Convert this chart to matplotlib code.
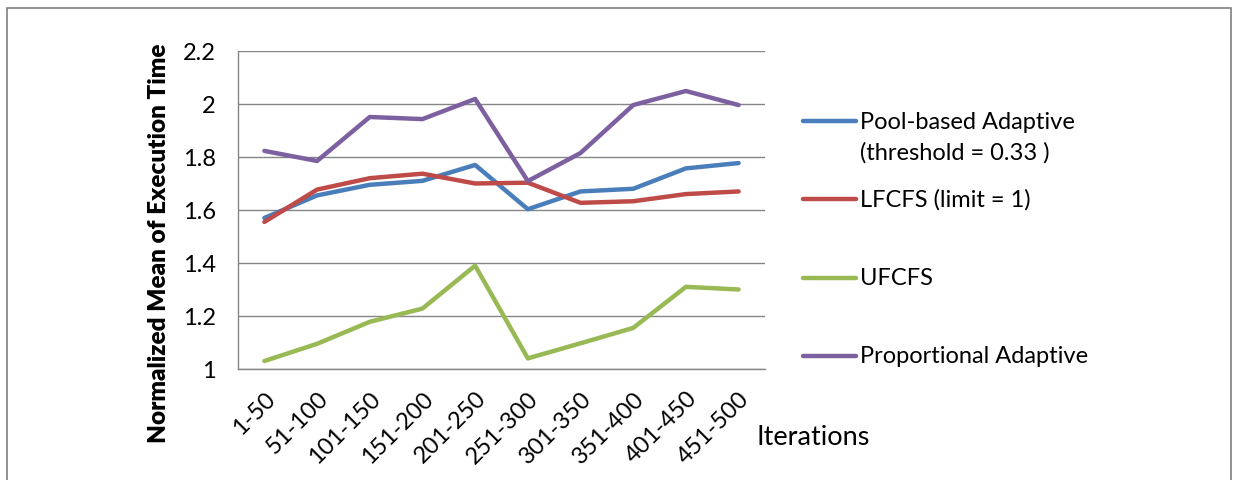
import matplotlib
matplotlib.use("Agg")
import matplotlib.pyplot as plt
from matplotlib.lines import Line2D
from matplotlib.patches import Rectangle

# iteration buckets on the x axis
iterations = ["1-50", "51-100", "101-150", "151-200", "201-250",
              "251-300", "301-350", "351-400", "401-450", "451-500"]

# normalized mean of execution time per scheduler
pool_adaptive = [1.57, 1.655, 1.695, 1.71, 1.77, 1.603, 1.67, 1.68, 1.757, 1.777]
lfcfs = [1.555, 1.677, 1.72, 1.737, 1.70, 1.703, 1.627, 1.633, 1.66, 1.67]
ufcfs = [1.03, 1.095, 1.178, 1.228, 1.39, 1.04, 1.097, 1.155, 1.31, 1.30]
prop_adaptive = [1.823, 1.785, 1.951, 1.943, 2.019, 1.709, 1.815, 1.996, 2.049, 1.996]

labels = ["Pool-based Adaptive\n(threshold = 0.33 )", "LFCFS (limit = 1)",
          "UFCFS", "Proportional Adaptive"]
colors = ["#4A7EBB", "#BE4B48", "#98B954", "#7D60A0"]
yticks = [1, 1.2, 1.4, 1.6, 1.8, 2, 2.2]

plt.rcParams['font.family'] = ['Lato', 'DejaVu Sans']

fig = plt.figure(figsize=(12.34, 4.81), dpi=100)
ax = fig.add_axes([0.1929, 0.2308, 0.427, 0.6611])

x = range(len(iterations))
for series, c in zip([pool_adaptive, lfcfs, ufcfs, prop_adaptive], colors):
    ax.plot(x, series, color=c, lw=3.2, solid_capstyle='round', solid_joinstyle='round')

ax.set_xlim(-0.5, len(iterations) - 0.5)
ax.set_ylim(1, 2.2)
ax.set_yticks(yticks)
ax.set_yticklabels([f"{v:g}" for v in yticks], fontsize=17)
ax.set_xticks(list(x))
ax.set_xticklabels(iterations, rotation=45, ha='right', rotation_mode='anchor', fontsize=17)
ax.tick_params(axis='y', length=0, pad=16)
ax.tick_params(axis='x', length=0, pad=13)
ax.grid(axis='y', color='#868686', lw=1)
ax.set_axisbelow(True)
for s in ['top', 'right']:
    ax.spines[s].set_visible(False)
for s in ['left', 'bottom']:
    ax.spines[s].set_color('#868686')
    ax.spines[s].set_linewidth(1)

ax.set_ylabel("Normalized Mean of Execution Time", fontsize=17.5, fontweight='heavy')
ax.yaxis.set_label_coords(-0.13, 0.40)
fig.text(0.613, 0.09, "Iterations", fontsize=19.5, ha='left', va='center')

# legend drawn beside the plot area, handle level with the first text line
legend_y = [0.746, 0.584, 0.420, 0.258]
for lab, c, ly in zip(labels, colors, legend_y):
    fig.add_artist(Line2D([0.651, 0.694], [ly, ly], color=c, lw=3.2,
                          solid_capstyle='round', transform=fig.transFigure))
    if '\n' in lab:
        first, second = lab.split('\n')
        fig.text(0.697, ly, first, fontsize=17, ha='left', va='center')
        fig.text(0.697, ly - 0.064, second, fontsize=17, ha='left', va='center')
    else:
        fig.text(0.697, ly, lab, fontsize=17, ha='left', va='center')

# outer chart border
fig.add_artist(Rectangle((0.0057, -0.05), 0.992, 1.031, transform=fig.transFigure,
                         fill=False, edgecolor='#7f7f7f', lw=1.2))

fig.savefig("out.png", dpi=100)
